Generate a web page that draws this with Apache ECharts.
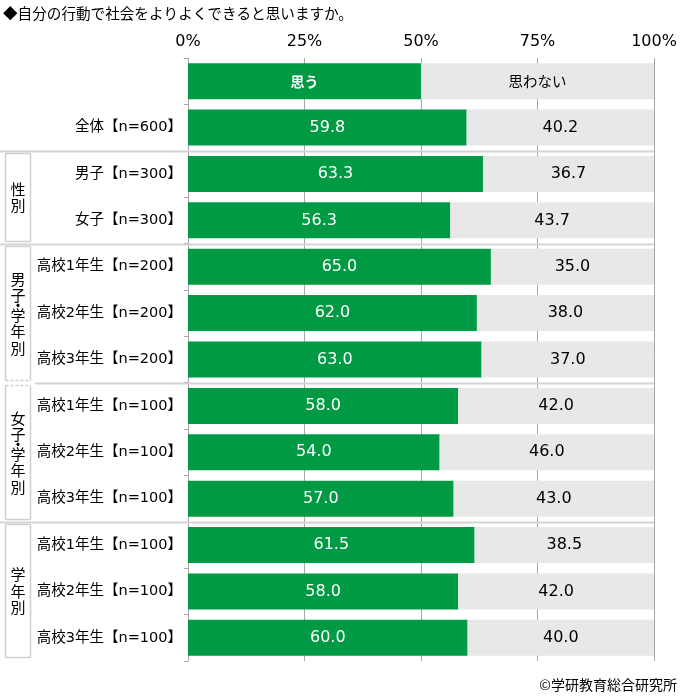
<!DOCTYPE html>
<html>
<head>
    <meta charset="utf-8">
    <title>自分の行動で社会をよりよくできると思いますか</title>
    <script src="https://cdn.jsdelivr.net/npm/echarts@6/dist/echarts.min.js"></script>
    <style>
        body { margin: 0; background: #fff; }
    </style>
</head>
<body>
    <div id="main" style="width: 687px;height:697px;"></div>
    <script type="text/javascript">
        // データ（先頭の行は凡例用の帯）
        var categories = ['', '全体【n=600】', '男子【n=300】', '女子【n=300】',
            '高校1年生【n=200】', '高校2年生【n=200】', '高校3年生【n=200】',
            '高校1年生【n=100】', '高校2年生【n=100】', '高校3年生【n=100】',
            '高校1年生【n=100】', '高校2年生【n=100】', '高校3年生【n=100】'];
        var yesValues = [50, 59.8, 63.3, 56.3, 65.0, 62.0, 63.0, 58.0, 54.0, 57.0, 61.5, 58.0, 60.0];
        var noValues = [50, 40.2, 36.7, 43.7, 35.0, 38.0, 37.0, 42.0, 46.0, 43.0, 38.5, 42.0, 40.0];
        var seriesNames = ['思う', '思わない'];
        var xTicks = [0, 25, 50, 75, 100];
        // グループ見出し: [最初の行, 最後の行, 文字]
        var groups = [
            [2, 3, '性別'],
            [4, 6, '男子・学年別'],
            [7, 9, '女子・学年別'],
            [10, 12, '学年別']
        ];
        var separatorsAfter = [1, 3, 6, 9];

        var CJK = '"Noto Sans CJK JP", sans-serif';
        var FONT = '"DejaVu Sans", "Noto Sans CJK JP", sans-serif';
        var GREEN = '#009a44';
        var GREY = '#e8e8e8';

        var myChart = echarts.init(document.getElementById('main'));

        function fmt(v) {
            return v.toFixed(1);
        }

        var option = {
            backgroundColor: '#fff',
            animation: false,
            textStyle: { fontFamily: FONT },
            grid: { left: 188, right: 33, top: 58, bottom: 36 },
            xAxis: {
                type: 'value',
                position: 'top',
                min: xTicks[0],
                max: xTicks[xTicks.length - 1],
                interval: 25,
                axisLine: { show: false },
                axisTick: { show: false },
                axisLabel: { formatter: '{value}%', color: '#000', fontSize: 16, margin: 8, fontFamily: FONT },
                splitLine: { lineStyle: { color: '#a6a6a6', width: 1 } }
            },
            yAxis: {
                type: 'category',
                inverse: true,
                data: categories,
                axisLine: { lineStyle: { color: '#a6a6a6', width: 1 } },
                axisTick: { show: true, length: 4, lineStyle: { color: '#a6a6a6' } },
                axisLabel: { color: '#000', fontSize: 14.5, margin: 6, fontFamily: FONT }
            },
            series: [
                {
                    name: seriesNames[0],
                    type: 'bar',
                    stack: 'all',
                    barWidth: 36,
                    itemStyle: { color: GREEN },
                    label: {
                        show: true,
                        position: 'inside',
                        color: '#fff',
                        fontSize: 16,
                        fontFamily: FONT,
                        formatter: function (p) {
                            return p.dataIndex === 0 ? '{h|' + p.seriesName + '}' : fmt(p.value);
                        },
                        rich: {
                            h: { color: '#fff', fontSize: 14, fontWeight: 'bold', fontFamily: CJK }
                        }
                    },
                    data: yesValues
                },
                {
                    name: seriesNames[1],
                    type: 'bar',
                    stack: 'all',
                    barWidth: 36,
                    itemStyle: { color: GREY },
                    label: {
                        show: true,
                        position: 'inside',
                        color: '#000',
                        fontSize: 16,
                        fontFamily: FONT,
                        formatter: function (p) {
                            return p.dataIndex === 0 ? '{h|' + p.seriesName + '}' : fmt(p.value);
                        },
                        rich: {
                            h: { color: '#000', fontSize: 14.5, fontFamily: CJK }
                        }
                    },
                    data: noValues
                }
            ],
            graphic: [
                {
                    type: 'text',
                    left: 3,
                    top: 6,
                    style: { text: '◆自分の行動で社会をよりよくできると思いますか。', fill: '#000', font: '14.6px ' + CJK }
                },
                {
                    type: 'text',
                    right: 10,
                    bottom: 5,
                    style: { text: '©学研教育総合研究所', fill: '#000', font: '14px ' + CJK }
                }
            ]
        };
        myChart.setOption(option);

        // 行の境界位置を軸から求めて、区切り線とグループ枠を描く
        function rowCenter(i) {
            return myChart.convertToPixel({ yAxisIndex: 0 }, i);
        }
        function boundary(i) { // i行目とi+1行目の境界
            return (rowCenter(i) + rowCenter(i + 1)) / 2;
        }
        var rightX = myChart.convertToPixel({ xAxisIndex: 0 }, 100);
        var extra = [];
        var lineColor = '#d4d4d4';
        separatorsAfter.forEach(function (r) {
            var y = Math.round(boundary(r)) + 0.5;
            extra.push({
                type: 'line',
                shape: { x1: r === 6 ? 35 : 0, y1: y, x2: rightX, y2: y },
                style: { stroke: lineColor, lineWidth: 2 },
                z: 1
            });
        });
        groups.forEach(function (g, gi) {
            var top = Math.round(boundary(g[0] - 1)) + 2.5;
            var bottom = Math.round(g[1] < categories.length - 1 ? boundary(g[1]) : rowCenter(g[1]) + 22) - 2.5;
            var x1 = 5.5, x2 = 30.5;
            var boxColor = '#cfcfcf';
            // 上下左右の枠線（男子と女子の学年別の境目は点線）
            extra.push({ type: 'line', shape: { x1: x1, y1: top, x2: x1, y2: bottom }, style: { stroke: boxColor, lineWidth: 1.5 } });
            extra.push({ type: 'line', shape: { x1: x2, y1: top, x2: x2, y2: bottom }, style: { stroke: boxColor, lineWidth: 1.5 } });
            extra.push({ type: 'line', shape: { x1: x1, y1: top, x2: x2, y2: top },
                style: { stroke: boxColor, lineWidth: 1.5, lineDash: gi === 2 ? [3, 2] : null } });
            extra.push({ type: 'line', shape: { x1: x1, y1: bottom, x2: x2, y2: bottom },
                style: { stroke: boxColor, lineWidth: 1.5, lineDash: gi === 1 ? [3, 2] : null } });

            // 縦書き
            var chars = g[2].split('');
            var pos = [], y = 0, pitch = 16.5;
            chars.forEach(function (ch) {
                if (ch === '・') {
                    pos.push(y - pitch + 9.75);
                    y += 3;
                } else {
                    pos.push(y);
                    y += pitch;
                }
            });
            var span = y - pitch;
            var cy = (top + bottom) / 2 - span / 2;
            chars.forEach(function (ch, k) {
                extra.push({
                    type: 'text',
                    x: (x1 + x2) / 2,
                    y: cy + pos[k],
                    style: { text: ch, fill: '#000', font: '15px ' + CJK, align: 'center', verticalAlign: 'middle' }
                });
            });
        });
        myChart.setOption({ graphic: option.graphic.concat(extra) }, { replaceMerge: ['graphic'] });
    </script>
</body>
</html>
